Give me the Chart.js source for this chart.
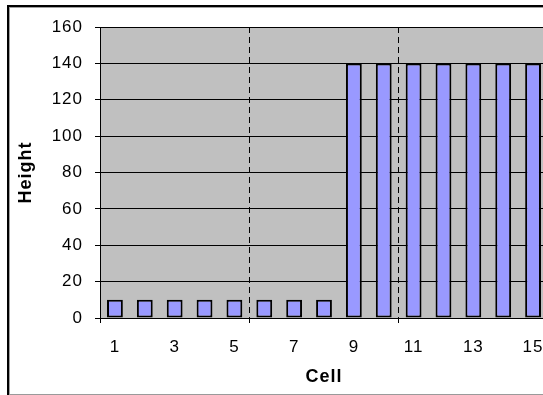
<!DOCTYPE html>
<html>
<head>
<meta charset="utf-8">
<script src="https://cdn.jsdelivr.net/npm/chart.js@4"></script>
<style>
  html, body { margin: 0; padding: 0; background: #fff; overflow: hidden; }
  canvas { display: block; }
</style>
</head>
<body>
<canvas id="chart" width="560" height="395"></canvas>
<script>
// cells and their heights
const cells   = ['1','2','3','4','5','6','7','8','9','10','11','12','13','14','15'];
const heights = [10, 10, 10, 10, 10, 10, 10, 10, 140, 140, 140, 140, 140, 140, 140];
const yTicks  = [0, 20, 40, 60, 80, 100, 120, 140, 160];

const FONT = 'Arial, "Liberation Sans", sans-serif';

// gray plot background + slightly wider text spacing like the original
const plotBg = {
  id: 'plotBg',
  beforeDraw(chart) {
    const { ctx, chartArea: a } = chart;
    ctx.letterSpacing = '1px';
    ctx.save();
    ctx.fillStyle = '#c0c0c0';
    ctx.fillRect(a.left, a.top, a.right - a.left, a.bottom - a.top);
    ctx.restore();
  },
  // outer chart frame (right side runs off the page)
  afterDraw(chart) {
    const { ctx } = chart;
    ctx.save();
    ctx.fillStyle = '#a0a0a0';
    ctx.fillRect(9, 7, 1, 387);
    ctx.fillRect(9, 7, 560, 1);
    ctx.fillStyle = '#9a9a9a';
    ctx.fillRect(7, 394, 560, 1);
    ctx.fillStyle = '#000';
    ctx.fillRect(7, 5, 2, 390);
    ctx.fillRect(7, 5, 560, 2);
    ctx.restore();
  }
};

new Chart(document.getElementById('chart'), {
  type: 'bar',
  data: {
    labels: cells,
    datasets: [{
      data: heights,
      backgroundColor: '#9999ff',
      borderColor: '#000',
      borderWidth: 2,
      borderSkipped: false,
      categoryPercentage: 1,
      barPercentage: 0.53
    }]
  },
  options: {
    responsive: false,
    animation: false,
    layout: { padding: { left: 0, top: 27, right: 12, bottom: 0 } },
    plugins: { legend: { display: false }, tooltip: { enabled: false } },
    scales: {
      x: {
        afterFit: s => { s.height = 77; },
        grid: {
          offset: true,
          color: c => (c.index === 5 || c.index === 10) ? '#000' : 'rgba(0,0,0,0)',
          tickColor: c => (c.index % 5 === 0) ? '#000' : 'rgba(0,0,0,0)',
          lineWidth: 1,
          tickLength: 5
        },
        border: { display: true, color: '#000', width: 1, dash: [6, 4] },
        ticks: {
          autoSkip: false, maxRotation: 0, color: '#000', padding: 14,
          font: { family: FONT, size: 17 },
          callback: (v, i) => i % 2 === 0 ? cells[i] : ''
        },
        title: {
          display: true, text: 'Cell', color: '#000', padding: { top: 4, bottom: 7 },
          font: { family: FONT, size: 18, weight: 'bold' }
        }
      },
      y: {
        min: 0, max: 160,
        afterFit: s => { s.width = 100; },
        afterBuildTicks: s => { s.ticks = yTicks.map(v => ({ value: v })); },
        grid: { color: '#000', lineWidth: 1, tickLength: 5 },
        border: { display: true, color: '#000', width: 1 },
        ticks: {
          color: '#000', padding: 12,
          font: { family: FONT, size: 17 }
        },
        title: {
          display: true, text: 'Height', color: '#000', padding: { top: 15, bottom: 0 },
          font: { family: FONT, size: 18, weight: 'bold' }
        }
      }
    }
  },
  plugins: [plotBg]
});
</script>
</body>
</html>
